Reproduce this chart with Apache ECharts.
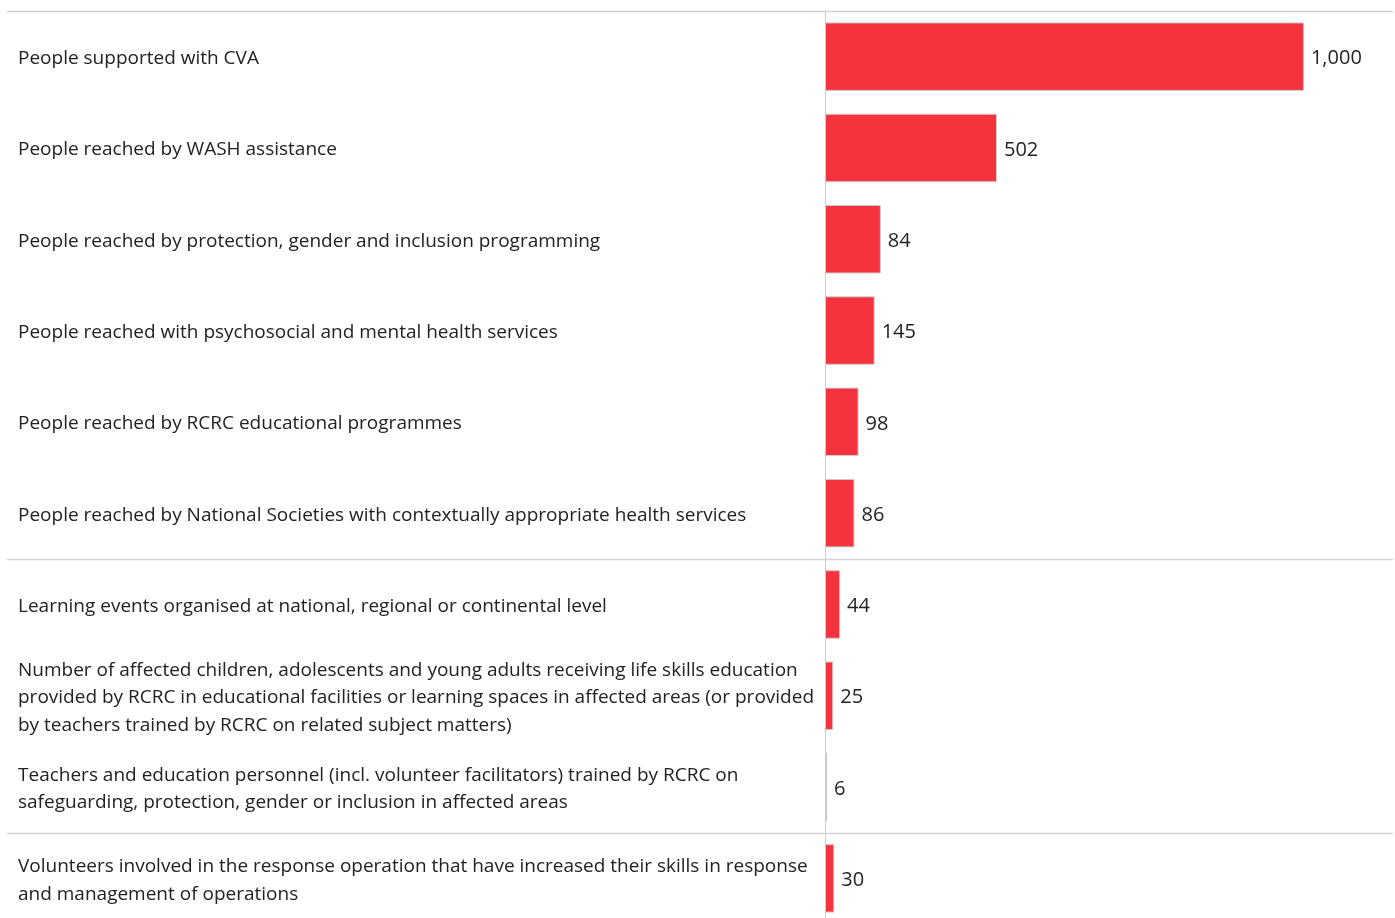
<!DOCTYPE html>
<html>
<head>
<meta charset="utf-8">
<script src="https://cdn.jsdelivr.net/npm/echarts@6/dist/echarts.min.js"></script>
<style>
html,body{margin:0;padding:0;background:#fff;}
#chart{width:1395px;height:918px;}
</style>
</head>
<body>
<div id="chart"></div>
<script>
const categories = [
  "People supported with CVA",
  "People reached by WASH assistance",
  "People reached by protection, gender and inclusion programming",
  "People reached with psychosocial and mental health services",
  "People reached by RCRC educational programmes",
  "People reached by National Societies with contextually appropriate health services",
  "Learning events organised at national, regional or continental level",
  "Number of affected children, adolescents and young adults receiving life skills education\nprovided by RCRC in educational facilities or learning spaces in affected areas (or provided\nby teachers trained by RCRC on related subject matters)",
  "Teachers and education personnel (incl. volunteer facilitators) trained by RCRC on\nsafeguarding, protection, gender or inclusion in affected areas",
  "Volunteers involved in the response operation that have increased their skills in response\nand management of operations"
];
// bar lengths as drawn
const barValues = [1398, 502, 163, 145, 98, 86, 44, 24, 6, 27];
// value labels shown next to bars
const labelValues = [1000, 502, 84, 145, 98, 86, 44, 25, 6, 30];
// group separators before these category indices
const groupStarts = [0, 6, 9];

const chart = echarts.init(document.getElementById('chart'));
const FONT = '"Open Sans", "Noto Sans", sans-serif';
chart.setOption({
  animation: false,
  grid: { left: 825, right: 2, top: 11, height: 913, containLabel: false, outerBoundsMode: 'none' },
  xAxis: {
    type: 'value', min: 0, max: 1658, show: false
  },
  yAxis: {
    type: 'category', inverse: true, data: categories,
    axisLine: { show: true, lineStyle: { color: '#cccccc', width: 1 } },
    axisTick: { show: false },
    splitLine: { show: false },
    axisLabel: {
      align: 'left', margin: 807, fontSize: 19, lineHeight: 27.5,
      color: '#222222', fontFamily: FONT,
      formatter: v => v.split('\n').map(s => '{t|' + s + '}').join('\n'),
      rich: {
        t: { fontSize: 19, lineHeight: 27.5, padding: [4, 0, 0, 0], color: '#222222', fontFamily: FONT }
      }
    }
  },
  series: [{
    type: 'bar',
    data: barValues,
    barCategoryGap: '25%',
    itemStyle: { color: '#F5333F', borderColor: '#cccccc', borderWidth: 1 },
    label: {
      show: true, position: 'right', distance: 7, offset: [0, 2],
      fontSize: 20, color: '#222222', fontFamily: FONT,
      formatter: p => labelValues[p.dataIndex].toLocaleString('en-US')
    }
  }]
});

function drawSeparators() {
  const c0 = chart.convertToPixel({ yAxisIndex: 0 }, categories[0]);
  const c1 = chart.convertToPixel({ yAxisIndex: 0 }, categories[1]);
  const band = c1 - c0;
  const lines = groupStarts.map(i => {
    const y = Math.round(c0 + (i - 0.5) * band) + 0.5;
    return {
      type: 'line', silent: true,
      shape: { x1: 7, y1: y, x2: 1393, y2: y },
      style: { stroke: '#d4d4d4', lineWidth: 1.5 }
    };
  });
  chart.setOption({ graphic: lines });
}
drawSeparators();
</script>
</body>
</html>
